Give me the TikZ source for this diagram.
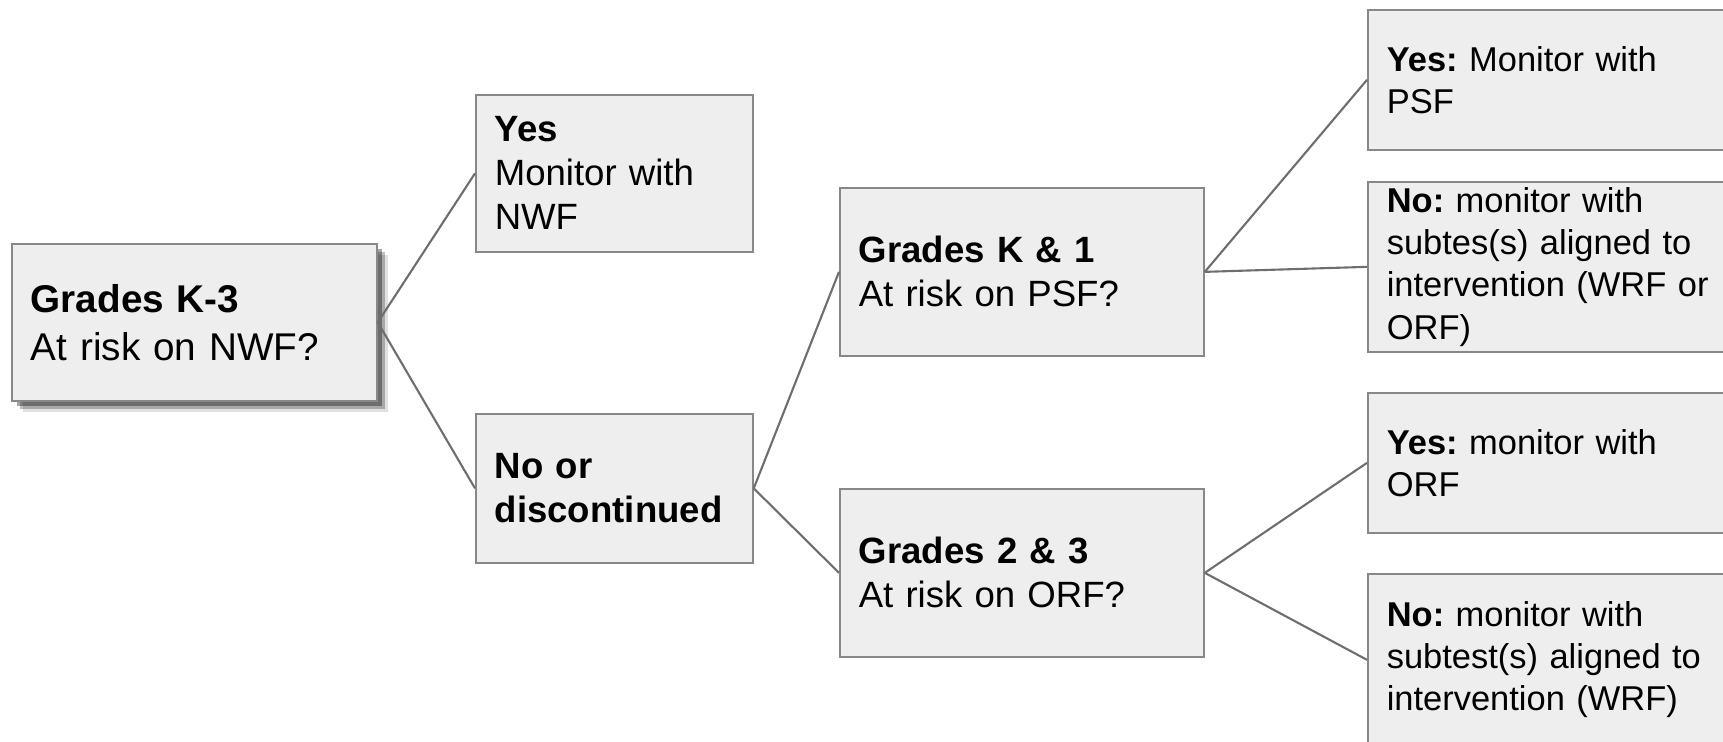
\documentclass[tikz,border=0pt]{standalone}
\usepackage{fontspec}
\setmainfont{Liberation Sans}
\usetikzlibrary{shadows}
\frenchspacing

\definecolor{boxfill}{HTML}{EEEEEE}
\definecolor{boxline}{HTML}{888888}
\definecolor{linkline}{HTML}{6E6E6E}

\begin{document}
\begin{tikzpicture}[x=0.01cm,y=-0.01cm]

        \useasboundingbox (0,0) rectangle (1723,741);
        \clip (0,0) rectangle (1723,741);

        \begin{scope}[every node/.style={rectangle,draw=boxline,fill=boxfill,line width=0.45pt,
            anchor=north west,inner xsep=0.19cm,inner ysep=0pt,align=left,
            font=\fontsize{10.4}{12.5}\selectfont}]
          \node[minimum width=3.65cm,minimum height=1.57cm,text width=3.27cm,
            font=\fontsize{11}{13.7}\selectfont,
            drop shadow={shadow xshift=0.11cm,shadow yshift=-0.11cm,fill=black,opacity=0.12},
            drop shadow={shadow xshift=0.08cm,shadow yshift=-0.08cm,fill=black,opacity=0.25},
            drop shadow={shadow xshift=0.05cm,shadow yshift=-0.05cm,fill=black,opacity=0.35}]
            (k3) at (11,243) {\textbf{Grades K-3}\\At risk on NWF?};

          \node[minimum width=2.77cm,minimum height=1.57cm,text width=2.39cm]
            (yes) at (475,94) {\textbf{Yes}\\Monitor with\\NWF};
          \node[minimum width=2.77cm,minimum height=1.49cm,text width=2.39cm]
            (nodisc) at (475,413) {\textbf{No or}\\\textbf{discontinued}};

          \node[minimum width=3.64cm,minimum height=1.68cm,text width=3.26cm]
            (k1) at (839,187) {\textbf{Grades K \& 1}\\At risk on PSF?};
          \node[minimum width=3.64cm,minimum height=1.68cm,text width=3.26cm]
            (g23) at (839,488) {\textbf{Grades 2 \& 3}\\At risk on ORF?};

          \begin{scope}[every node/.append style={minimum width=3.9cm,text width=3.52cm,
              font=\fontsize{9.8}{12}\selectfont}]
            \node[minimum height=1.40cm] (psfyes) at (1367,9)
              {\textbf{Yes:} Monitor with\\PSF};
            \node[minimum height=1.70cm] (psfno) at (1367,181)
              {\textbf{No:} monitor with\\subtes(s) aligned to\\intervention (WRF or\\ORF)};
            \node[minimum height=1.40cm] (orfyes) at (1367,392)
              {\textbf{Yes:} monitor with\\ORF};
            \node[minimum height=1.72cm] (orfno) at (1367,573)
              {\textbf{No:} monitor with\\subtest(s) aligned to\\intervention (WRF)};
          \end{scope}
        \end{scope}

        \begin{scope}[every edge/.style={draw=linkline,line width=0.6pt}]
          \path (k3.east)     edge (yes.west);
          \path (k3.east)     edge (nodisc.west);
          \path (nodisc.east) edge (k1.west);
          \path (nodisc.east) edge (g23.west);
          \path (k1.east)     edge (psfyes.west);
          \path (k1.east)     edge (psfno.west);
          \path (g23.east)    edge (orfyes.west);
          \path (g23.east)    edge (orfno.west);
        \end{scope}

      \end{tikzpicture}
\end{document}
